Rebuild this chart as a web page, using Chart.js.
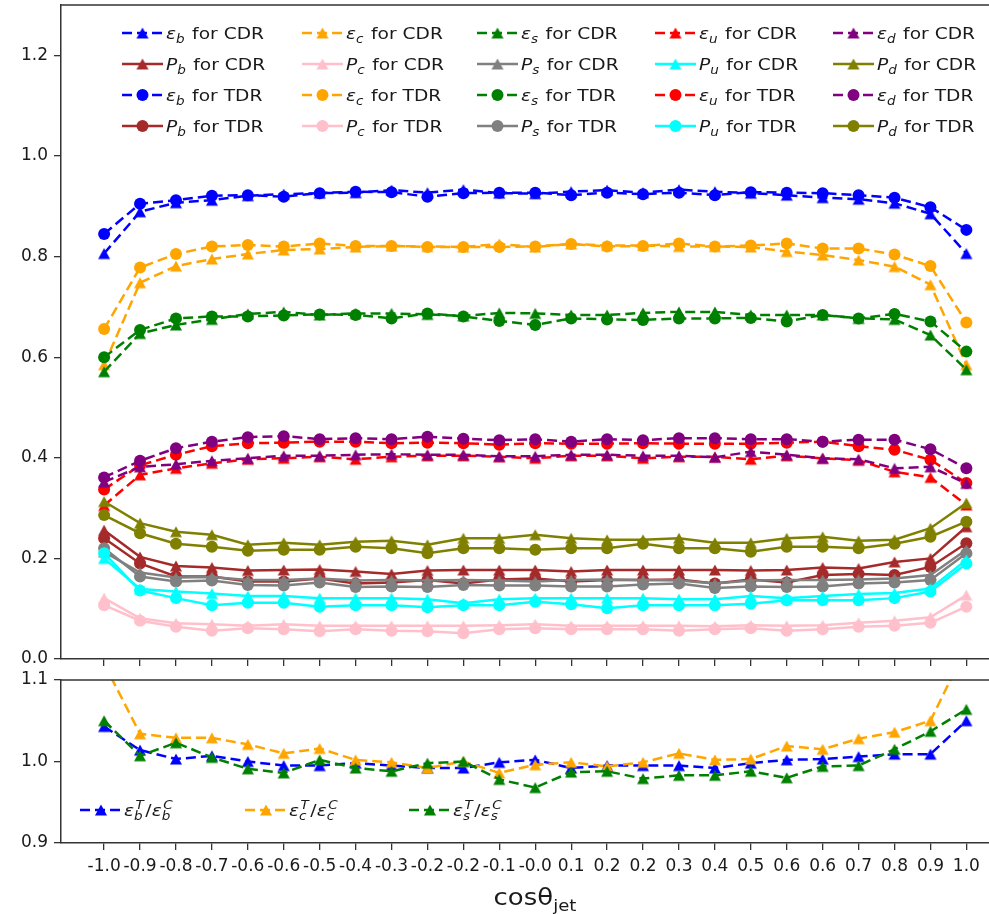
<!DOCTYPE html>
<html><head><meta charset="utf-8">
<script src="https://cdn.jsdelivr.net/npm/chart.js@4/dist/chart.umd.min.js"></script>
<style>
html,body{margin:0;padding:0;background:#fff;overflow:hidden;width:989px;height:914px}
#topc{position:absolute;left:0;top:0}
#botc{position:absolute;left:0;top:670px}
</style></head><body>
<canvas id="topc" width="989" height="670"></canvas>
<canvas id="botc" width="989" height="244"></canvas>
<script>
// ---------------- DATA ----------------
const xLabels = ['-1.0','-0.9','-0.8','-0.7','-0.6','-0.6','-0.5','-0.4','-0.3','-0.2','-0.2','-0.1','-0.0','0.1','0.2','0.2','0.3','0.4','0.5','0.6','0.6','0.7','0.8','0.9','1.0'];
const topYTicks = [0.0, 0.2, 0.4, 0.6, 0.8, 1.0, 1.2];
const bottomYTicks = [0.9, 1.0, 1.1];

// efficiencies (epsilon) CDR
const effB_CDR = [0.806,0.889,0.907,0.912,0.921,0.924,0.926,0.927,0.932,0.927,0.933,0.926,0.925,0.929,0.932,0.927,0.933,0.929,0.926,0.922,0.917,0.914,0.906,0.885,0.806];
const effC_CDR = [0.585,0.748,0.781,0.795,0.805,0.813,0.815,0.819,0.821,0.820,0.819,0.825,0.819,0.825,0.822,0.822,0.820,0.820,0.819,0.810,0.803,0.793,0.780,0.744,0.585];
const effS_CDR = [0.571,0.647,0.664,0.675,0.686,0.690,0.684,0.687,0.687,0.685,0.682,0.688,0.687,0.684,0.684,0.688,0.690,0.690,0.684,0.684,0.684,0.677,0.675,0.644,0.575];
const effU_CDR = [0.305,0.366,0.379,0.389,0.397,0.399,0.402,0.397,0.402,0.404,0.404,0.402,0.399,0.404,0.404,0.399,0.402,0.402,0.397,0.404,0.399,0.395,0.372,0.361,0.306];
const effD_CDR = [0.352,0.382,0.387,0.394,0.399,0.404,0.404,0.406,0.407,0.406,0.406,0.403,0.403,0.406,0.406,0.404,0.404,0.401,0.412,0.406,0.399,0.397,0.379,0.382,0.349];
// purities CDR
const purB_CDR = [0.256,0.203,0.185,0.182,0.176,0.177,0.178,0.174,0.169,0.176,0.177,0.177,0.177,0.174,0.177,0.177,0.177,0.177,0.176,0.177,0.182,0.180,0.193,0.200,0.263];
const purC_CDR = [0.121,0.081,0.071,0.069,0.066,0.069,0.066,0.066,0.066,0.066,0.066,0.067,0.069,0.066,0.066,0.066,0.066,0.065,0.067,0.066,0.067,0.072,0.076,0.083,0.127];
const purS_CDR = [0.213,0.172,0.162,0.163,0.157,0.157,0.160,0.156,0.157,0.156,0.157,0.156,0.154,0.157,0.158,0.157,0.156,0.150,0.156,0.157,0.157,0.158,0.160,0.167,0.217];
const purU_CDR = [0.200,0.139,0.134,0.130,0.125,0.125,0.121,0.121,0.121,0.119,0.111,0.119,0.121,0.121,0.121,0.121,0.119,0.119,0.125,0.121,0.125,0.129,0.131,0.140,0.197];
const purD_CDR = [0.313,0.270,0.253,0.247,0.227,0.231,0.227,0.233,0.235,0.227,0.240,0.240,0.247,0.240,0.237,0.237,0.240,0.231,0.231,0.240,0.243,0.235,0.237,0.260,0.310];
// efficiencies TDR
const effB_TDR = [0.845,0.905,0.912,0.921,0.922,0.919,0.926,0.929,0.928,0.919,0.926,0.927,0.927,0.922,0.927,0.924,0.927,0.922,0.928,0.927,0.926,0.922,0.917,0.898,0.853];
const effC_TDR = [0.656,0.778,0.805,0.820,0.823,0.820,0.826,0.821,0.821,0.819,0.819,0.819,0.820,0.825,0.820,0.821,0.826,0.820,0.822,0.826,0.816,0.816,0.804,0.781,0.669];
const effS_TDR = [0.600,0.654,0.677,0.681,0.681,0.683,0.685,0.684,0.677,0.687,0.681,0.672,0.664,0.677,0.675,0.674,0.677,0.677,0.678,0.671,0.684,0.677,0.686,0.671,0.611];
const effU_TDR = [0.337,0.385,0.406,0.423,0.429,0.430,0.432,0.432,0.429,0.430,0.429,0.426,0.429,0.428,0.428,0.429,0.428,0.428,0.428,0.430,0.432,0.423,0.416,0.396,0.350];
const effD_TDR = [0.361,0.394,0.419,0.432,0.441,0.443,0.437,0.439,0.437,0.442,0.438,0.435,0.437,0.432,0.437,0.435,0.439,0.439,0.437,0.437,0.432,0.436,0.436,0.417,0.379];
// purities TDR
const purB_TDR = [0.240,0.190,0.164,0.164,0.154,0.154,0.160,0.150,0.152,0.157,0.150,0.158,0.160,0.154,0.157,0.157,0.158,0.150,0.158,0.152,0.167,0.169,0.167,0.183,0.230];
const purC_TDR = [0.107,0.076,0.064,0.056,0.061,0.059,0.055,0.059,0.056,0.055,0.051,0.059,0.061,0.059,0.059,0.059,0.056,0.059,0.061,0.056,0.059,0.064,0.066,0.072,0.104];
const purS_TDR = [0.220,0.164,0.154,0.156,0.147,0.146,0.152,0.143,0.144,0.143,0.147,0.146,0.146,0.144,0.144,0.148,0.150,0.141,0.144,0.143,0.144,0.150,0.152,0.157,0.210];
const purU_TDR = [0.210,0.136,0.121,0.107,0.112,0.112,0.104,0.107,0.107,0.103,0.107,0.107,0.114,0.109,0.101,0.107,0.107,0.107,0.110,0.117,0.117,0.117,0.121,0.134,0.190];
const purD_TDR = [0.286,0.250,0.229,0.223,0.215,0.217,0.217,0.223,0.220,0.210,0.220,0.220,0.217,0.220,0.220,0.229,0.220,0.220,0.213,0.223,0.223,0.220,0.229,0.243,0.273];
// ratios TDR / CDR
const ratioB = [1.043,1.014,1.003,1.007,1.000,0.995,0.995,0.998,0.995,0.992,0.992,0.999,1.002,0.992,0.995,0.995,0.995,0.992,0.998,1.002,1.003,1.006,1.009,1.009,1.050];
const ratioC = [1.120,1.034,1.029,1.029,1.021,1.010,1.016,1.002,0.999,0.992,1.000,0.986,0.996,0.999,0.994,0.999,1.010,1.002,1.003,1.019,1.015,1.028,1.036,1.050,1.140];
const ratioS = [1.050,1.007,1.023,1.005,0.991,0.986,1.002,0.992,0.988,0.998,1.000,0.978,0.968,0.987,0.988,0.979,0.983,0.983,0.988,0.980,0.994,0.995,1.015,1.037,1.064];

// ---------------- STYLE ----------------
const FONT = '"DejaVu Sans", sans-serif';
const AXIS_COLOR = '#333333';
const TEXT_COLOR = '#1a1a1a';
const X_MIN = -1.2, X_MAX = 24.63;
const LINE_W = 2.5;
const DASH = [10, 5];
const SX = 1.13; // horizontal text stretch of the reference

function triCanvas(color) {
  const c = document.createElement('canvas');
  c.width = 14; c.height = 14;
  const g = c.getContext('2d');
  g.fillStyle = color;
  g.beginPath();
  g.moveTo(7, 1.5); g.lineTo(13, 12.5); g.lineTo(1, 12.5); g.closePath();
  g.fill();
  return c;
}

function makeSeries(sym, f, det, data, color, marker, dashed) {
  return {sym, f, det, data, color, marker, dashed};
}
const topSeries = [
  makeSeries('ε','b','CDR',effB_CDR,'#0000ff','tri',true),
  makeSeries('P','b','CDR',purB_CDR,'#a52a2a','tri',false),
  makeSeries('ε','b','TDR',effB_TDR,'#0000ff','circ',true),
  makeSeries('P','b','TDR',purB_TDR,'#a52a2a','circ',false),
  makeSeries('ε','c','CDR',effC_CDR,'#ffa500','tri',true),
  makeSeries('P','c','CDR',purC_CDR,'#ffc0cb','tri',false),
  makeSeries('ε','c','TDR',effC_TDR,'#ffa500','circ',true),
  makeSeries('P','c','TDR',purC_TDR,'#ffc0cb','circ',false),
  makeSeries('ε','s','CDR',effS_CDR,'#008000','tri',true),
  makeSeries('P','s','CDR',purS_CDR,'#808080','tri',false),
  makeSeries('ε','s','TDR',effS_TDR,'#008000','circ',true),
  makeSeries('P','s','TDR',purS_TDR,'#808080','circ',false),
  makeSeries('ε','u','CDR',effU_CDR,'#ff0000','tri',true),
  makeSeries('P','u','CDR',purU_CDR,'#00ffff','tri',false),
  makeSeries('ε','u','TDR',effU_TDR,'#ff0000','circ',true),
  makeSeries('P','u','TDR',purU_TDR,'#00ffff','circ',false),
  makeSeries('ε','d','CDR',effD_CDR,'#800080','tri',true),
  makeSeries('P','d','CDR',purD_CDR,'#808000','tri',false),
  makeSeries('ε','d','TDR',effD_TDR,'#800080','circ',true),
  makeSeries('P','d','TDR',purD_TDR,'#808000','circ',false)
];
const bottomSeries = [
  makeSeries('ε','b','',ratioB,'#0000ff','tri',true),
  makeSeries('ε','c','',ratioC,'#ffa500','tri',true),
  makeSeries('ε','s','',ratioS,'#008000','tri',true)
];

function toDataset(s, i, n) {
  const tri = s.marker === 'tri' ? triCanvas(s.color) : null;
  s.triImg = tri;
  return {
    label: s.sym + s.f + ' ' + s.det,
    data: s.data.map((v, k) => ({x: k, y: v})),
    borderColor: s.color,
    backgroundColor: s.color,
    borderWidth: LINE_W,
    borderDash: s.dashed ? DASH : [],
    pointStyle: tri ? tri : 'circle',
    pointRadius: 6,
    pointBackgroundColor: s.color,
    pointBorderColor: s.color,
    pointBorderWidth: 0,
    tension: 0,
    fill: false,
    order: n - i
  };
}

function xScale(showLabels, height) {
  return {
    type: 'linear', min: X_MIN, max: X_MAX,
    afterBuildTicks: sc => { sc.ticks = xLabels.map((_, i) => ({value: i})); },
    afterFit: sc => { sc.height = height; sc.paddingLeft = 0; sc.paddingRight = 0; },
    ticks: {display: showLabels, autoSkip: false, maxRotation: 0, minRotation: 0, padding: 6,
      color: TEXT_COLOR, font: {family: FONT, size: 17},
      callback: (v) => xLabels[Math.round(v)]},
    grid: {display: true, drawOnChartArea: false, drawTicks: true, tickLength: 7, color: AXIS_COLOR, lineWidth: 1.3},
    border: {display: true, color: AXIS_COLOR, width: 1.5}
  };
}
function yScale(min, max, ticks) {
  return {
    type: 'linear', min, max,
    afterBuildTicks: sc => { sc.ticks = ticks.map(v => ({value: v})); },
    afterFit: sc => { sc.width = 61; sc.paddingTop = 0; sc.paddingBottom = 0; },
    ticks: {padding: 6, color: TEXT_COLOR, font: {family: FONT, size: 17}, callback: v => Number(v).toFixed(1)},
    grid: {display: true, drawOnChartArea: false, drawTicks: true, tickLength: 7, color: AXIS_COLOR, lineWidth: 1.3},
    border: {display: true, color: AXIS_COLOR, width: 1.5}
  };
}

const framePlugin = {
  id: 'frameTop',
  afterDraw(chart) {
    const {ctx, chartArea: a} = chart;
    ctx.save();
    ctx.strokeStyle = AXIS_COLOR; ctx.lineWidth = 1.5;
    ctx.beginPath(); ctx.moveTo(a.left, a.top); ctx.lineTo(a.right, a.top); ctx.stroke();
    ctx.restore();
  }
};

function drawHandle(ctx, s, x0, yc, len) {
  ctx.save();
  ctx.strokeStyle = s.color; ctx.lineWidth = LINE_W;
  ctx.setLineDash(s.dashed ? DASH : []);
  ctx.beginPath(); ctx.moveTo(x0, yc); ctx.lineTo(x0 + len, yc); ctx.stroke();
  ctx.setLineDash([]);
  const mx = x0 + len / 2;
  if (s.marker === 'tri') {
    ctx.drawImage(s.triImg, mx - 7, yc - 7);
  } else {
    ctx.fillStyle = s.color;
    ctx.beginPath(); ctx.arc(mx, yc, 6, 0, Math.PI * 2); ctx.fill();
  }
  ctx.restore();
}
// draw text stretched horizontally like the reference; returns advance
function sText(ctx, t, x, y, font) {
  ctx.font = font;
  ctx.save();
  ctx.translate(x, y);
  ctx.scale(SX, 1);
  ctx.fillText(t, 0, 0);
  ctx.restore();
  return ctx.measureText(t).width * SX;
}
function drawSym(ctx, x, y, base, sub, sup, fs, after) {
  x += sText(ctx, base, x, y, `italic ${fs}px ${FONT}`);
  const sfs = Math.round(fs * 0.72);
  let w = 0;
  if (sub) { w = sText(ctx, sub, x, y + fs * 0.25, `italic ${sfs}px ${FONT}`); }
  if (sup) { w = Math.max(w, sText(ctx, sup, x + 1.5, y - fs * 0.45, `italic ${sfs}px ${FONT}`) + 1.5); }
  return x + w + after;
}

const legendColX = [122, 302, 477, 655, 833];
const legendRowY = [33, 64, 95, 126];
const LEG_FS = 16.5;
const topLegendPlugin = {
  id: 'topLegend',
  afterDraw(chart) {
    const ctx = chart.ctx;
    ctx.save();
    ctx.fillStyle = TEXT_COLOR; ctx.textBaseline = 'alphabetic';
    topSeries.forEach((s, i) => {
      const col = Math.floor(i / 4), row = i % 4;
      const x0 = legendColX[col], yc = legendRowY[row];
      drawHandle(ctx, s, x0, yc, 41);
      ctx.fillStyle = TEXT_COLOR;
      const x = drawSym(ctx, x0 + 44, yc + 6, s.sym, s.f, null, LEG_FS, 1.5);
      sText(ctx, ' for ' + s.det, x, yc + 6, `${LEG_FS}px ${FONT}`);
    });
    ctx.restore();
  }
};

const botLegendX = [80, 245, 409];
const botLegendY = 140;
const bottomPlugin = {
  id: 'botLegendTitle',
  afterDraw(chart) {
    const ctx = chart.ctx;
    ctx.save();
    ctx.textBaseline = 'alphabetic';
    bottomSeries.forEach((s, i) => {
      const x0 = botLegendX[i];
      drawHandle(ctx, s, x0, botLegendY, 42);
      ctx.fillStyle = TEXT_COLOR;
      let x = drawSym(ctx, x0 + 44, botLegendY + 6, 'ε', s.f, 'T', LEG_FS, 1.5);
      x += sText(ctx, '/', x, botLegendY + 6, `${LEG_FS}px ${FONT}`);
      drawSym(ctx, x, botLegendY + 6, 'ε', s.f, 'C', LEG_FS, 1.5);
    });
    // x-axis title cosθ_jet
    ctx.fillStyle = TEXT_COLOR;
    ctx.font = `23px ${FONT}`;
    const wm = ctx.measureText('cosθ').width * SX;
    ctx.font = `16px ${FONT}`;
    const ws = ctx.measureText('jet').width * SX;
    const x0 = 535 - (wm + ws) / 2;
    const yb = 235;
    sText(ctx, 'cosθ', x0, yb, `23px ${FONT}`);
    sText(ctx, 'jet', x0 + wm, yb + 6, `16px ${FONT}`);
    ctx.restore();
  }
};

Chart.defaults.font.family = FONT;

new Chart(document.getElementById('topc'), {
  type: 'line',
  data: {datasets: topSeries.map((s, i) => toDataset(s, i, topSeries.length))},
  options: {
    responsive: false, animation: false, devicePixelRatio: 1, events: [],
    layout: {autoPadding: false, padding: {top: 5, right: 0, left: 0, bottom: 0}},
    plugins: {legend: {display: false}, tooltip: {enabled: false}},
    scales: {x: xScale(false, 11), y: yScale(0, 1.3, topYTicks)}
  },
  plugins: [framePlugin, topLegendPlugin]
});

new Chart(document.getElementById('botc'), {
  type: 'line',
  data: {datasets: bottomSeries.map((s, i) => toDataset(s, i, bottomSeries.length))},
  options: {
    responsive: false, animation: false, devicePixelRatio: 1, events: [],
    layout: {autoPadding: false, padding: {top: 10, right: 0, left: 0, bottom: 0}},
    plugins: {legend: {display: false}, tooltip: {enabled: false}},
    scales: {x: xScale(true, 71), y: yScale(0.9, 1.1, bottomYTicks)}
  },
  plugins: [framePlugin, bottomPlugin]
});
</script>
</body></html>
